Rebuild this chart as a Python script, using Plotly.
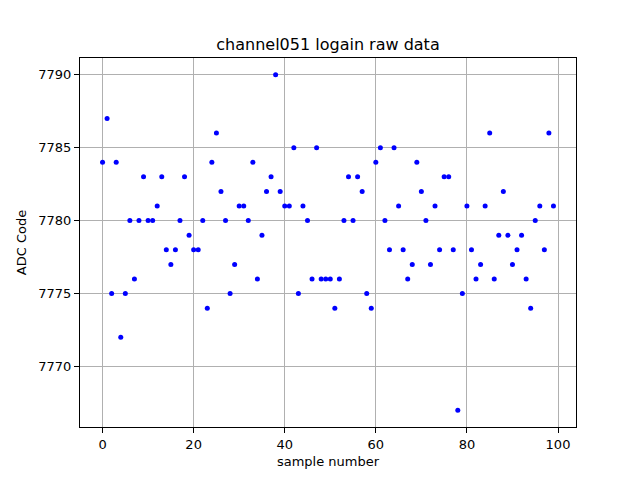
import plotly.graph_objects as go

sample_number = list(range(100))
adc_code = [
    7784, 7787, 7775, 7784, 7772, 7775, 7780, 7776, 7780, 7783,
    7780, 7780, 7781, 7783, 7778, 7777, 7778, 7780, 7783, 7779,
    7778, 7778, 7780, 7774, 7784, 7786, 7782, 7780, 7775, 7777,
    7781, 7781, 7780, 7784, 7776, 7779, 7782, 7783, 7790, 7782,
    7781, 7781, 7785, 7775, 7781, 7780, 7776, 7785, 7776, 7776,
    7776, 7774, 7776, 7780, 7783, 7780, 7783, 7782, 7775, 7774,
    7784, 7785, 7780, 7778, 7785, 7781, 7778, 7776, 7777, 7784,
    7782, 7780, 7777, 7781, 7778, 7783, 7783, 7778, 7767, 7775,
    7781, 7778, 7776, 7777, 7781, 7786, 7776, 7779, 7782, 7779,
    7777, 7778, 7779, 7776, 7774, 7780, 7781, 7778, 7786, 7781,
]
x_ticks = [0, 20, 40, 60, 80, 100]
y_ticks = [7770, 7775, 7780, 7785, 7790]

fig = go.Figure()
fig.add_trace(go.Scatter(
    x=sample_number, y=adc_code, mode="markers",
    marker=dict(color="blue", size=5, line=dict(width=0)),
    showlegend=False,
))

axis_common = dict(
    showgrid=True, gridcolor="#b0b0b0", gridwidth=1.1,
    showline=True, linecolor="black", linewidth=1.1, mirror=True,
    ticks="outside", ticklen=5, tickwidth=1.1, tickcolor="black",
    zeroline=False, automargin=False,
    tickfont=dict(family="DejaVu Sans", size=13, color="black"),
)

# page body has an 8px margin; margins are compensated for it
fig.update_layout(
    width=640, height=480,
    paper_bgcolor="white", plot_bgcolor="white",
    margin=dict(l=72, r=72, t=50, b=61, autoexpand=False),
    title=dict(text="channel051 logain raw data", x=0.5, xanchor="center",
               xref="paper", y=1 - 36 / 480, yanchor="middle",
               font=dict(family="DejaVu Sans", size=16, color="black"),
               automargin=False),
    xaxis=dict(range=[-4.95, 103.95], tickvals=x_ticks,
               title=dict(text="sample number", standoff=6,
                          font=dict(family="DejaVu Sans", size=13, color="black")),
               **axis_common),
    yaxis=dict(range=[7765.85, 7791.15], tickvals=y_ticks,
               title=dict(text="ADC Code", standoff=8,
                          font=dict(family="DejaVu Sans", size=13, color="black")),
               **axis_common),
)

fig.write_html("out.html")
